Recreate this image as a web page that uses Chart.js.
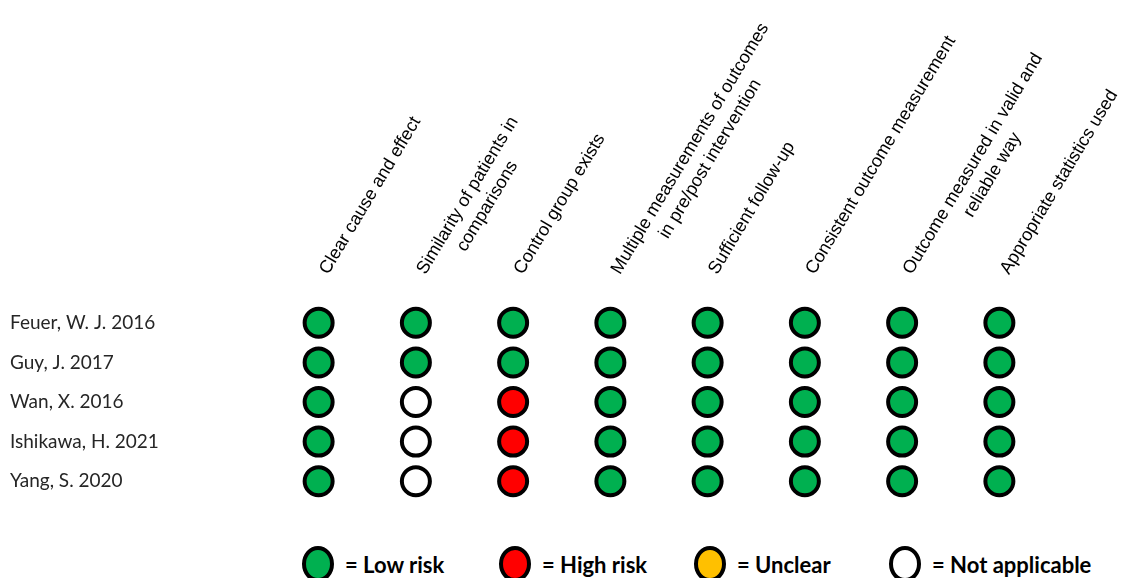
<!DOCTYPE html>
<html>
<head>
<meta charset="utf-8">
<script src="https://cdn.jsdelivr.net/npm/chart.js@4/dist/chart.umd.min.js"></script>
<style>
    body { margin: 0; background: #fff; }
    #wrap { position: relative; width: 1136px; height: 578px; }
    #chartBox { position: absolute; left: 0; top: 0; width: 1136px; height: 520px; }
    #legend { position: absolute; left: 0; top: 546px; width: 1136px; height: 32px; }
    .key { position: absolute; top: 0; display: flex; align-items: center; }
    .key .dot { width: 24px; height: 28px; border: 4px solid #000; border-radius: 50%; }
    .key span { margin-left: 11px; font-family: Lato, 'Noto Sans', sans-serif; font-weight: 700; font-size: 22px; color: #000; }
</style>
</head>
<body>
<div id="wrap">
    <div id="chartBox"><canvas id="chartRiesgo"></canvas></div>
    <div id="legend"></div>
</div>
<script>
const dominios = [
    'Clear cause and effect',
    ['Similarity of patients in', 'comparisons'],
    'Control group exists',
    ['Multiple measurements of outcomes', 'in pre/post intervention'],
    'Sufficient follow-up',
    'Consistent outcome measurement',
    ['Outcome measured in valid and', 'reliable way'],
    'Appropriate statistics used'
];

const estudios = ['Feuer, W. J. 2016', 'Guy, J. 2017', 'Wan, X. 2016', 'Ishikawa, H. 2021', 'Yang, S. 2020'];

// one rating per domain, same order as dominios
const feuer2016 = ['low', 'low', 'low', 'low', 'low', 'low', 'low', 'low'];
const guy2017 = ['low', 'low', 'low', 'low', 'low', 'low', 'low', 'low'];
const wan2016 = ['low', 'na', 'high', 'low', 'low', 'low', 'low', 'low'];
const ishikawa2021 = ['low', 'na', 'high', 'low', 'low', 'low', 'low', 'low'];
const yang2020 = ['low', 'na', 'high', 'low', 'low', 'low', 'low', 'low'];

const calificaciones = [feuer2016, guy2017, wan2016, ishikawa2021, yang2020];

const categorias = ['low', 'high', 'unclear', 'na'];
const etiquetas = {
    low: 'Low risk',
    high: 'High risk',
    unclear: 'Unclear',
    na: 'Not applicable'
};
const colores = {
    low: '#00B050',
    high: '#FF0000',
    unclear: '#FFC000',
    na: '#FFFFFF'
};

const FUENTE_CABECERA = "'Liberation Sans', Arial, sans-serif";
const TAM_CABECERA = 18;

// plain string keys for the category scale, lines are put back in the tick callback
const dominiosKeys = dominios.map(d => [].concat(d).join(' '));

// centre the lines of a two-line header (rotated ticks are always left aligned)
const medidor = document.createElement('canvas').getContext('2d');
medidor.font = `${TAM_CABECERA}px ${FUENTE_CABECERA}`;
function lineasCabecera(d) {
    if (!Array.isArray(d)) return [d, ''];
    const ancho = Math.max(...d.map(l => medidor.measureText(l).width));
    const espacio = medidor.measureText(' ').width;
    return d.map(l => ' '.repeat(Math.round((ancho - medidor.measureText(l).width) / 2 / espacio)) + l);
}

const datasets = categorias.map(cat => {
    const puntos = [];
    calificaciones.forEach((fila, i) => {
        fila.forEach((valor, j) => {
            if (valor === cat) puntos.push({ x: dominiosKeys[j], y: estudios[i] });
        });
    });
    return {
        label: etiquetas[cat],
        data: puntos,
        pointStyle: 'circle',
        pointRadius: 14,
        pointHoverRadius: 14,
        pointBackgroundColor: colores[cat],
        pointBorderColor: '#000',
        pointBorderWidth: 4,
        pointHoverBorderWidth: 4,
        showLine: false
    };
});

const chartRiesgo = new Chart(document.getElementById('chartRiesgo').getContext('2d'), {
    type: 'scatter',
    data: { datasets },
    options: {
        responsive: true,
        maintainAspectRatio: false,
        animation: false,
        events: [],
        layout: {
            padding: { left: 10, right: 88, top: 0, bottom: 19 }
        },
        plugins: {
            legend: { display: false },
            tooltip: { enabled: false }
        },
        scales: {
            x: {
                type: 'category',
                position: 'top',
                labels: dominiosKeys,
                offset: true,
                grid: { display: false, drawTicks: false },
                border: { display: false },
                afterFit: (scale) => { scale.height = 303; },
                ticks: {
                    autoSkip: false,
                    minRotation: 59,
                    maxRotation: 59,
                    padding: 13,
                    labelOffset: 44,
                    color: '#000',
                    font: { family: FUENTE_CABECERA, size: TAM_CABECERA, lineHeight: 1.25 },
                    callback: (value) => lineasCabecera(dominios[value])
                }
            },
            y: {
                type: 'category',
                labels: estudios,
                offset: true,
                grid: { display: false, drawTicks: false },
                border: { display: false },
                afterFit: (scale) => { scale.width = 260; },
                ticks: {
                    crossAlign: 'far',
                    padding: 0,
                    color: '#262626',
                    font: { family: "Lato, 'Noto Sans', sans-serif", size: 19 }
                }
            }
        }
    }
});

// leyenda
const posLeyenda = { low: 302, high: 499, unclear: 694, na: 889 };
const legend = document.getElementById('legend');
categorias.forEach(cat => {
    const item = document.createElement('div');
    item.className = 'key';
    item.style.left = posLeyenda[cat] + 'px';
    item.innerHTML = `<div class="dot" style="background:${colores[cat]}"></div><span>= ${etiquetas[cat]}</span>`;
    legend.appendChild(item);
});
</script>
</body>
</html>
